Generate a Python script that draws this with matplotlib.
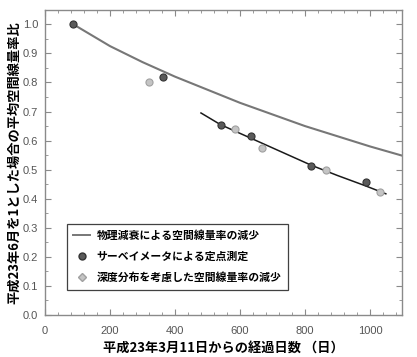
import matplotlib
matplotlib.use('Agg')
import matplotlib.pyplot as plt
from matplotlib.ticker import MultipleLocator
from matplotlib.lines import Line2D

plt.rcParams['font.family'] = ['Noto Sans CJK JP', 'DejaVu Sans']

# physical decay curve
decay_days = [87, 200, 300, 400, 500, 600, 700, 800, 900, 1000, 1100]
decay_ratio = [1.0, 0.925, 0.87, 0.82, 0.775, 0.73, 0.69, 0.65, 0.615, 0.58, 0.548]

# survey meter fixed-point measurements
meter_days = [87, 362, 543, 635, 820, 988]
meter_ratio = [1.0, 0.818, 0.653, 0.615, 0.514, 0.458]

# depth distribution considered
depth_days = [319, 586, 667, 864, 1031]
depth_ratio = [0.801, 0.640, 0.575, 0.500, 0.423]

# fitted line through measurements
fit_days = [480, 540, 640, 740, 820, 900, 985, 1049]
fit_ratio = [0.695, 0.655, 0.605, 0.555, 0.515, 0.480, 0.445, 0.417]

fig = plt.figure(figsize=(4.17, 3.57), dpi=100)
ax = fig.add_axes([0.108, 0.1176, 0.857, 0.855])

ax.plot(decay_days, decay_ratio, color='#777777', lw=1.5, zorder=2)
ax.plot(fit_days, fit_ratio, color='#1a1a1a', lw=1.1, zorder=2)
ax.scatter(meter_days, meter_ratio, s=26, marker='o', color='#5a5a5a',
           edgecolors='#333333', linewidths=0.8, zorder=3)
ax.scatter(depth_days, depth_ratio, s=26, marker='o', color='#c4c4c4',
           edgecolors='#a0a0a0', linewidths=0.8, zorder=3)

ax.set_xlim(0, 1100)
ax.set_ylim(0, 1.05)
ax.xaxis.set_major_locator(MultipleLocator(200))
ax.xaxis.set_minor_locator(MultipleLocator(40))
ax.yaxis.set_major_locator(MultipleLocator(0.1))
ax.yaxis.set_minor_locator(MultipleLocator(0.05))
ax.yaxis.set_major_formatter(matplotlib.ticker.FormatStrFormatter('%.1f'))

for s in ax.spines.values():
    s.set_color('#8a8a8a')
    s.set_linewidth(1.0)
ax.tick_params(which='both', colors='#8a8a8a', labelcolor='#555555',
               labelsize=8, top=True, right=True, direction='in')
ax.tick_params(which='major', length=4)
ax.tick_params(which='minor', length=2.5)
ax.tick_params(axis='x', which='major', pad=8)
ax.tick_params(axis='y', which='major', pad=5)
for lab in ax.get_xticklabels() + ax.get_yticklabels():
    lab.set_family(['Liberation Sans', 'DejaVu Sans'])

ax.set_xlabel('平成23年3月11日からの経過日数 （日）', fontsize=9.5,
              fontweight='bold', labelpad=3)
ax.set_ylabel('平成23年6月を1とした場合の平均空間線量率比', fontsize=9.5,
              fontweight='bold', labelpad=1)

handles = [
    Line2D([], [], color='#777777', lw=1.4),
    Line2D([], [], ls='none', marker='o', ms=5, color='#5a5a5a', mec='#333333'),
    Line2D([], [], ls='none', marker='D', ms=4, color='#c4c4c4', mec='#a0a0a0'),
]
labels = ['物理減衰による空間線量率の減少', 'サーベイメータによる定点測定',
          '深度分布を考慮した空間線量率の減少']
leg = ax.legend(handles, labels, loc='lower left', bbox_to_anchor=(0.045, 0.065),
                frameon=True, fancybox=False, handlelength=1.6,
                handletextpad=0.6, labelspacing=1.0, borderpad=0.6,
                prop={'weight': 'bold', 'size': 7.8})
leg.get_frame().set_edgecolor('#111111')
leg.get_frame().set_linewidth(0.9)

fig.savefig('out.png', dpi=100)
